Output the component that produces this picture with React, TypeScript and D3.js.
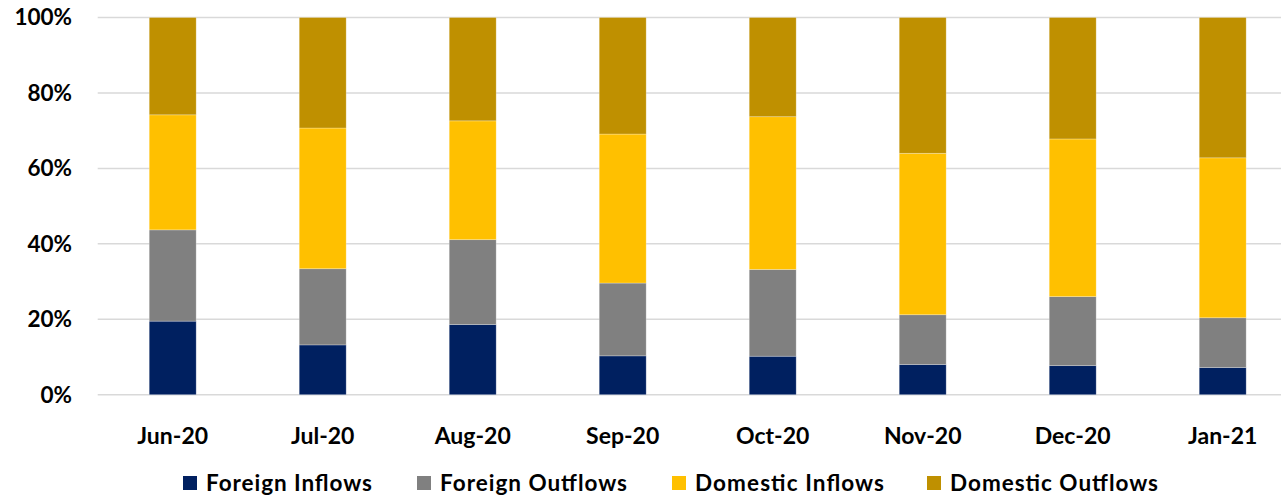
import React, { useEffect, useRef } from "react";
import * as d3 from "d3";

const categories = ["Jun-20", "Jul-20", "Aug-20", "Sep-20", "Oct-20", "Nov-20", "Dec-20", "Jan-21"];
const foreignInflows = [19.5, 13.2, 18.6, 10.3, 10.2, 8.0, 7.7, 7.2];
const foreignOutflows = [24.2, 20.2, 22.5, 19.3, 23.0, 13.2, 18.3, 13.2];
const domesticInflows = [30.5, 37.3, 31.5, 39.5, 40.5, 42.8, 41.8, 42.4];
const domesticOutflows = [25.8, 29.3, 27.4, 30.9, 26.3, 36.0, 32.2, 37.2];
const seriesNames = ["Foreign Inflows", "Foreign Outflows", "Domestic Inflows", "Domestic Outflows"];
const seriesColors = ["#002060", "#808080", "#FFC000", "#BF9000"];
const yTicks = [0, 0.2, 0.4, 0.6, 0.8, 1.0];

const W = 1281;
const H = 495;
const FONT = "Lato, 'Open Sans', sans-serif";
const legendX = [183, 417, 672, 927];
const legendTextW = [166, 187, 189, 208];

export default function App() {
  const ref = useRef<SVGSVGElement | null>(null);

  useEffect(() => {
    const svg = d3.select(ref.current);
    svg.selectAll("*").remove();

    const x = d3
      .scaleBand<string>()
      .domain(categories)
      .range([97.7, 1297.7])
      .paddingInner(0.687)
      .paddingOuter(0.3435);
    const y = d3.scaleLinear().domain([0, 1]).range([394.7, 17.5]);

    const rows = categories.map((c, i) => {
      const tot = foreignInflows[i] + foreignOutflows[i] + domesticInflows[i] + domesticOutflows[i];
      return {
        cat: c,
        s0: foreignInflows[i] / tot,
        s1: foreignOutflows[i] / tot,
        s2: domesticInflows[i] / tot,
        s3: domesticOutflows[i] / tot,
      };
    });
    const stack = d3.stack<any>().keys(["s0", "s1", "s2", "s3"]);
    const layers = stack(rows);

    svg
      .append("g")
      .selectAll("line")
      .data(yTicks)
      .join("line")
      .attr("x1", 97.7)
      .attr("x2", W)
      .attr("y1", (d) => y(d))
      .attr("y2", (d) => y(d))
      .attr("stroke", "#d9d9d9")
      .attr("stroke-width", 1.5);

    svg
      .append("g")
      .selectAll("text")
      .data(yTicks)
      .join("text")
      .attr("x", 72)
      .attr("y", (d) => y(d))
      .attr("dy", "0.35em")
      .attr("text-anchor", "end")
      .attr("font-family", FONT)
      .attr("font-weight", "bold")
      .attr("font-size", 22.5)
      .attr("fill", "#000")
      .text((d) => d3.format(".0%")(d));

    const g = svg.append("g");
    layers.forEach((layer, li) => {
      g.append("g")
        .selectAll("rect")
        .data(layer)
        .join("rect")
        .attr("x", (d: any) => x(d.data.cat) as number)
        .attr("width", x.bandwidth())
        .attr("y", (d: any) => y(d[1]))
        .attr("height", (d: any) => y(d[0]) - y(d[1]))
        .attr("fill", seriesColors[li])
        .attr("stroke", "rgba(255,255,255,0.35)")
        .attr("stroke-width", 0.75);
    });

    svg
      .append("g")
      .selectAll("text")
      .data(categories)
      .join("text")
      .attr("x", (d) => (x(d) as number) + x.bandwidth() / 2)
      .attr("y", 444)
      .attr("text-anchor", "middle")
      .attr("font-family", FONT)
      .attr("font-weight", "bold")
      .attr("font-size", 23)
      .attr("fill", "#000")
      .text((d) => d);

    const leg = svg.append("g");
    seriesNames.forEach((name, i) => {
      const gi = leg.append("g").attr("transform", `translate(${legendX[i]},491)`);
      gi.append("rect").attr("x", 0).attr("y", -15).attr("width", 14).attr("height", 14).attr("fill", seriesColors[i]);
      gi.append("text")
        .attr("x", 23)
        .attr("y", 0)
        .attr("font-family", FONT)
        .attr("font-weight", "bold")
        .attr("font-size", 22.5)
        .attr("fill", "#000")
        .attr("textLength", legendTextW[i])
        .attr("lengthAdjust", "spacing")
        .text(name);
    });
  }, []);

  return (
    <svg
      ref={ref}
      width={W}
      height={H}
      style={{ position: "absolute", left: 0, top: 0, background: "#fff" }}
    />
  );
}
